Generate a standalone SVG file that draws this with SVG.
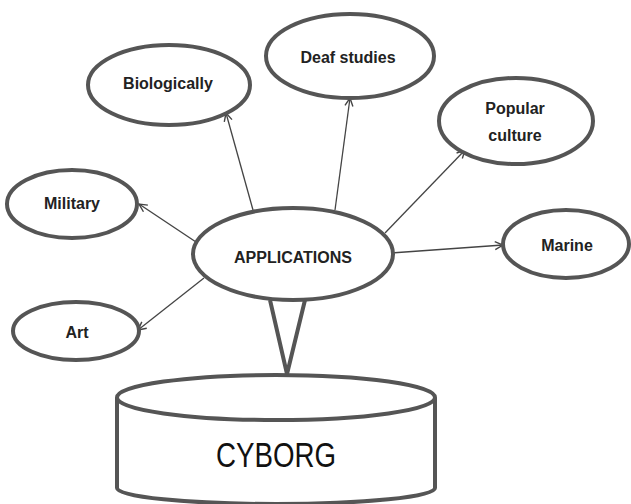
<svg xmlns="http://www.w3.org/2000/svg" width="631" height="504" viewBox="0 0 631 504">
<style>
.node{fill:#fff;stroke:#555;stroke-width:4}
.lbl{font-family:"Liberation Sans",Arial,sans-serif;font-weight:bold;font-size:16px;fill:#222;text-anchor:middle}
.big{font-family:"Liberation Sans",Arial,sans-serif;font-size:35px;fill:#111;text-anchor:middle}
.conn{stroke:#444;stroke-width:1.3;fill:none}
</style>
<defs>
<marker id="arr" viewBox="0 0 10 10" refX="9" refY="5" markerWidth="10" markerHeight="10" markerUnits="userSpaceOnUse" orient="auto">
<path d="M1,1 L9,5 L1,9" fill="none" stroke="#444" stroke-width="1.4"/>
</marker>
</defs>
<rect width="631" height="504" fill="#fff"/>
<g id="connectors">
<line class="conn" x1="253" y1="210" x2="226" y2="113" marker-end="url(#arr)"/>
<line class="conn" x1="196" y1="242" x2="139" y2="204" marker-end="url(#arr)"/>
<line class="conn" x1="335" y1="210" x2="350" y2="98" marker-end="url(#arr)"/>
<line class="conn" x1="385" y1="233" x2="465" y2="150" marker-end="url(#arr)"/>
<line class="conn" x1="391" y1="253" x2="503" y2="245" marker-end="url(#arr)"/>
<line class="conn" x1="204" y1="278" x2="138" y2="330" marker-end="url(#arr)"/>
</g>
<g id="cyborg">
<path class="node" d="M117,397.5 L117,488 A159,16 0 0 0 435,488 L435,397.5"/>
<ellipse class="node" cx="276" cy="397.5" rx="159" ry="22.5"/>
<text class="big" x="276" y="467" textLength="120" lengthAdjust="spacingAndGlyphs">CYBORG</text>
</g>
<g id="funnel">
<path d="M270,300 L287,374 L305,300" fill="none" stroke="#555" stroke-width="4" stroke-linejoin="miter"/>
</g>
<g id="applications">
<ellipse class="node" cx="293" cy="254" rx="100" ry="46"/>
<text class="lbl" x="293" y="263">APPLICATIONS</text>
</g>
<g id="biologically">
<ellipse class="node" cx="169" cy="85" rx="81" ry="40"/>
<text class="lbl" x="168" y="89">Biologically</text>
</g>
<g id="deaf-studies">
<ellipse class="node" cx="350" cy="56" rx="84" ry="42"/>
<text class="lbl" x="348" y="63">Deaf studies</text>
</g>
<g id="popular-culture">
<ellipse class="node" cx="516" cy="121" rx="77" ry="43"/>
<text class="lbl" x="515" y="114">Popular</text>
<text class="lbl" x="515" y="141">culture</text>
</g>
<g id="military">
<ellipse class="node" cx="72" cy="204" rx="65" ry="34"/>
<text class="lbl" x="72" y="209">Military</text>
</g>
<g id="marine">
<ellipse class="node" cx="566" cy="244" rx="63" ry="34"/>
<text class="lbl" x="567" y="251">Marine</text>
</g>
<g id="art">
<ellipse class="node" cx="76" cy="331" rx="63" ry="29"/>
<text class="lbl" x="77" y="338">Art</text>
</g>
</svg>
